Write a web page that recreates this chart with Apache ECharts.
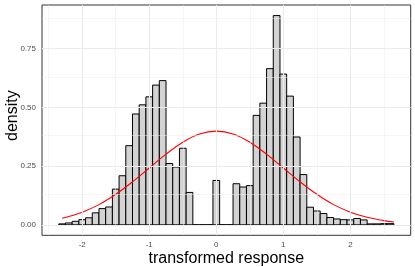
<!DOCTYPE html>
<html>
<head>
<meta charset="utf-8">
<script src="https://cdn.jsdelivr.net/npm/echarts@6/dist/echarts.min.js"></script>
<style>
html,body{margin:0;padding:0;background:#fff;}
#chart{width:415px;height:267px;}
</style>
</head>
<body>
<div id="chart"></div>
<script>
// Histogram bin centres (binwidth 0.1) and densities
const binCenters = [
  -2.3,-2.2,-2.1,-2.0,-1.9,-1.8,-1.7,-1.6,-1.5,-1.4,-1.3,-1.2,-1.1,-1.0,-0.9,-0.8,-0.7,-0.6,-0.5,-0.4,
  -0.3,-0.2,-0.1,0.0,0.1,0.2,
  0.3,0.4,0.5,0.6,0.7,0.8,0.9,1.0,1.1,1.2,1.3,1.4,1.5,1.6,1.7,1.8,1.9,2.0,2.1,2.2,2.3,2.4,2.5,2.6
];
const binDensity = [
  0.004,0.008,0.015,0.022,0.030,0.051,0.069,0.076,0.152,0.209,0.337,0.472,0.511,0.545,0.595,0.614,0.261,0.246,0.326,0.138,
  0,0,0,0.189,0,0,
  0.175,0.161,0.167,0.466,0.518,0.665,0.891,0.642,0.548,0.374,0.214,0.075,0.059,0.048,0.031,0.025,0.022,0.021,0.027,0.021,0.004,0.004,0.005,0.005
];
const BIN_WIDTH = 0.1;

// Red reference curve
const curveX = [-2.3,-2.0,-1.75,-1.5,-1.25,-1.0,-0.75,-0.5,-0.25,0,0.25,0.5,0.75,1.0,1.25,1.5,1.75,2.0,2.25,2.5,2.65];
const curveY = [0.028,0.054,0.086,0.130,0.183,0.242,0.301,0.352,0.387,0.399,0.387,0.352,0.301,0.242,0.183,0.130,0.086,0.054,0.032,0.018,0.012];

// Axis ticks
const xTicks = [-2,-1,0,1,2];
const xMinor = [-2.5,-1.5,-0.5,0.5,1.5,2.5];
const yTicks = [0,0.25,0.5,0.75];
const yMinor = [0.125,0.375,0.625,0.875];

const X_MIN = -2.6, X_MAX = 2.9;
const Y_MIN = -0.0446, Y_MAX = 0.936;

const FONT = 'Liberation Sans, Arial, Helvetica, sans-serif';

const gridLines = [];
xTicks.forEach(v => gridLines.push({xAxis: v, lineStyle: {width: 1}}));
xMinor.forEach(v => gridLines.push({xAxis: v, lineStyle: {width: 0.5}}));
yTicks.forEach(v => gridLines.push({yAxis: v, lineStyle: {width: 1}}));
yMinor.forEach(v => gridLines.push({yAxis: v, lineStyle: {width: 0.5}}));

const chart = echarts.init(document.getElementById('chart'), null, {renderer: 'canvas'});
chart.setOption({
  animation: false,
  backgroundColor: '#ffffff',
  grid: {
    left: 42, top: 5, right: 4.3, bottom: 31.7,
    show: true, borderColor: '#333333', borderWidth: 1, backgroundColor: '#ffffff',
    containLabel: false, outerBoundsMode: 'none'
  },
  xAxis: {
    type: 'value', min: X_MIN, max: X_MAX,
    name: 'transformed response', nameLocation: 'middle', nameGap: 15, nameMoveOverlap: false,
    nameTextStyle: {fontSize: 16, color: '#000', fontFamily: FONT},
    axisLine: {show: false},
    axisTick: {show: true, customValues: xTicks, length: 3, lineStyle: {color: '#333333', width: 1}},
    axisLabel: {show: true, customValues: xTicks, margin: 5, fontSize: 8, color: '#4d4d4d', fontFamily: FONT},
    splitLine: {show: false}, minorSplitLine: {show: false}
  },
  yAxis: {
    type: 'value', min: Y_MIN, max: Y_MAX,
    name: 'density', nameLocation: 'middle', nameGap: 21, nameRotate: 90, nameMoveOverlap: false,
    nameTextStyle: {fontSize: 16, color: '#000', fontFamily: FONT, padding: [0, 0, 0, 9]},
    axisLine: {show: false},
    axisTick: {show: true, customValues: yTicks, length: 3, lineStyle: {color: '#333333', width: 1}},
    axisLabel: {show: true, customValues: yTicks, margin: 6, fontSize: 8, color: '#4d4d4d', fontFamily: FONT,
      formatter: v => Number(v).toFixed(2)},
    splitLine: {show: false}, minorSplitLine: {show: false}
  },
  series: [
    {
      type: 'line', data: [], z: 1, silent: true,
      markLine: {
        silent: true, symbol: ['none', 'none'], label: {show: false},
        lineStyle: {color: '#ebebeb', type: 'solid'},
        emphasis: {disabled: true},
        data: gridLines
      }
    },
    {
      type: 'custom', z: 2, silent: true,
      data: binCenters.map((c, i) => [c, binDensity[i]]),
      encode: {x: 0, y: 1},
      renderItem: function (params, api) {
        const c = api.value(0), d = api.value(1);
        const p0 = api.coord([c - BIN_WIDTH / 2, d]);
        const p1 = api.coord([c + BIN_WIDTH / 2, 0]);
        return {
          type: 'rect',
          shape: {x: p0[0], y: p0[1], width: p1[0] - p0[0], height: p1[1] - p0[1]},
          style: {fill: '#d3d3d3', stroke: '#000000', lineWidth: 1}
        };
      }
    },
    {
      type: 'line', z: 3, silent: true,
      data: curveX.map((x, i) => [x, curveY[i]]),
      smooth: 0.4, showSymbol: false, symbol: 'none',
      lineStyle: {color: '#ff0000', width: 1.1}
    }
  ]
});
</script>
</body>
</html>
